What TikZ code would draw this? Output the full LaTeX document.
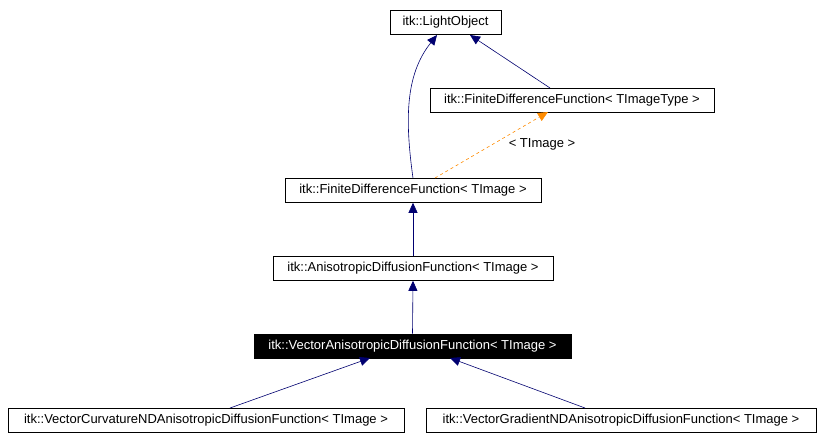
\documentclass[tikz,border=0pt]{standalone}
\usepackage{fontspec}
\setmainfont{Liberation Sans}
\usetikzlibrary{arrows.meta}
\begin{document}
\begin{tikzpicture}[x=1pt,y=-1pt,
  lbl/.style={font=\fontsize{13}{15}\selectfont},
  box/.style={draw,line width=0.6pt,minimum height=24pt,inner sep=0pt,lbl},
  inh/.style={draw=blue!30!black!80!blue,line width=0.6pt,-{Triangle[width=9pt,length=10pt,fill=blue!30!black!80!blue]}},
  tmpl/.style={draw=orange!90!yellow,dashed,line width=0.6pt,-{Triangle[width=9pt,length=10pt,fill=orange!90!yellow]}}]
\useasboundingbox (0,0) rectangle (823,442);
\fill[white] (0,0) rectangle (823,442);
\node[box,minimum width=111pt] (lo) at (445.5,22.5) {itk::LightObject};
\node[box,minimum width=284pt] (fdft) at (572,100.5) {itk::FiniteDifferenceFunction< TImageType >};
\node[box,minimum width=256pt] (fdf) at (413,190.5) {itk::FiniteDifferenceFunction< TImage >};
\node[box,minimum width=280pt] (adf) at (413,268.5) {itk::AnisotropicDiffusionFunction< TImage >};
\node[box,minimum width=317pt,fill=black,text=white] (vadf) at (412.5,346) {itk::VectorAnisotropicDiffusionFunction< TImage >};
\node[box,minimum width=396pt] (vc) at (206,420.5) {itk::VectorCurvatureNDAnisotropicDiffusionFunction< TImage >};
\node[box,minimum width=390pt] (vg) at (621,420.5) {itk::VectorGradientNDAnisotropicDiffusionFunction< TImage >};
\draw[inh] (fdf.north) .. controls (405,120) and (405,75) .. (437,35);
\draw[inh] (550,88) -- (470,35);
\draw[tmpl] (435,178) -- (548,112);
\node[lbl] (tl) at (542,144) {< TImage >};
\draw[inh] (adf.north) -- (fdf.south);
\draw[inh] (vadf.north) -- (adf.south);
\draw[inh] (230,408) -- (370,358);
\draw[inh] (585,408) -- (450,358);
\end{tikzpicture}
\end{document}
